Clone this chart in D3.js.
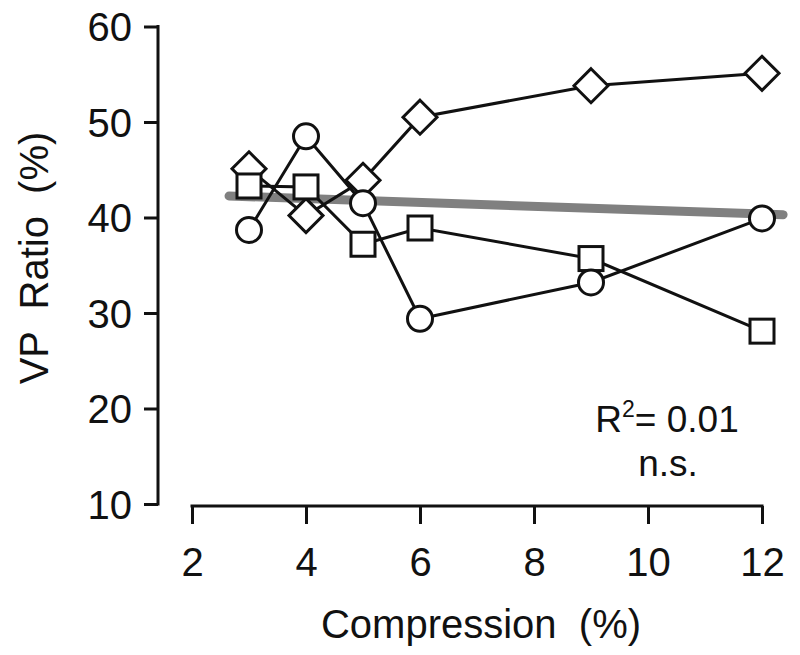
<!DOCTYPE html>
<html><head><meta charset="utf-8">
<script src="https://cdn.jsdelivr.net/npm/d3@7/dist/d3.min.js"></script>
<style>body{margin:0;background:#fff}text{font-family:"Liberation Sans",Arial,sans-serif;fill:#111}</style>
</head><body><svg id="c" width="800" height="655"></svg>
<script>
const xVals = [3, 4, 5, 6, 9, 12];
const diamonds = [45.1, 40.2, 43.9, 50.5, 53.8, 55.1];
const squares = [43.3, 43.2, 37.2, 38.9, 35.7, 28.1];
const circles = [38.7, 48.5, 41.5, 29.4, 33.2, 39.9];
const fitLine = [[2.65, 42.25], [12.37, 40.3]];
const xTicks = [2, 4, 6, 8, 10, 12];
const yTicks = [10, 20, 30, 40, 50, 60];

const FONT = '"Liberation Sans",Arial,sans-serif';
const svg = d3.select("#c");
const x = d3.scaleLinear().domain([2, 12]).range([192, 762]);
const y = d3.scaleLinear().domain([10, 60]).range([504, 26.5]);

// axes
const ya = svg.append("g").attr("transform", "translate(158,0)")
  .call(d3.axisLeft(y).tickValues(yTicks).tickSize(14).tickPadding(12).tickSizeOuter(0));
const xa = svg.append("g").attr("transform", "translate(0,506)")
  .call(d3.axisBottom(x).tickValues(xTicks).tickSize(18).tickPadding(24).tickSizeOuter(0));
[ya, xa].forEach(a => {
  a.select(".domain").attr("stroke", "#111").attr("stroke-width", 3);
  a.selectAll(".tick line").attr("stroke", "#111").attr("stroke-width", 3);
  a.selectAll(".tick text").attr("font-size", 40).style("font-family", FONT).attr("fill", "#111");
});
ya.select(".domain").attr("d", `M0,${y(60) - 1.5}V${y(10) + 1.5}`);
xa.select(".domain").attr("d", `M${x(2) - 1.5},0H${x(12) + 1.5}`);
ya.selectAll(".tick text").attr("dy", "0.36em");

svg.append("text").attr("transform", "translate(48,258) rotate(-90)")
  .attr("text-anchor", "middle").attr("font-size", 40).style("white-space", "pre").text("VP  Ratio  (%)");
svg.append("text").attr("x", 481).attr("y", 638)
  .attr("text-anchor", "middle").attr("font-size", 40).style("white-space", "pre").text("Compression  (%)");

// fit line
svg.append("line").attr("x1", x(fitLine[0][0])).attr("y1", y(fitLine[0][1]))
  .attr("x2", x(fitLine[1][0])).attr("y2", y(fitLine[1][1]))
  .attr("stroke", "#808080").attr("stroke-width", 9).attr("stroke-linecap", "round");

const line = d3.line().x((d, i) => x(xVals[i])).y(d => y(d));
function series(vals, shape) {
  svg.append("path").attr("d", line(vals)).attr("fill", "none")
    .attr("stroke", "#111").attr("stroke-width", 3);
  const g = svg.append("g");
  vals.forEach((v, i) => {
    const cx = x(xVals[i]), cy = y(v);
    let el;
    if (shape === "circle") el = g.append("circle").attr("cx", cx).attr("cy", cy).attr("r", 12.5);
    else if (shape === "square") el = g.append("rect").attr("x", cx - 12).attr("y", cy - 12).attr("width", 24).attr("height", 24);
    else el = g.append("path").attr("d", `M${cx},${cy - 17}L${cx + 17},${cy}L${cx},${cy + 17}L${cx - 17},${cy}Z`);
    el.attr("fill", "#fff").attr("stroke", "#111").attr("stroke-width", 3);
  });
}
series(diamonds, "diamond");
series(squares, "square");
series(circles, "circle");

const r2 = svg.append("text").attr("x", 667).attr("y", 432).attr("text-anchor", "middle").attr("font-size", 37);
r2.append("tspan").text("R");
r2.append("tspan").attr("font-size", 23).attr("dy", -15).text("2");
r2.append("tspan").attr("dy", 15).text("= 0.01");
svg.append("text").attr("x", 668).attr("y", 476).attr("text-anchor", "middle").attr("font-size", 37).text("n.s.");
</script></body></html>
